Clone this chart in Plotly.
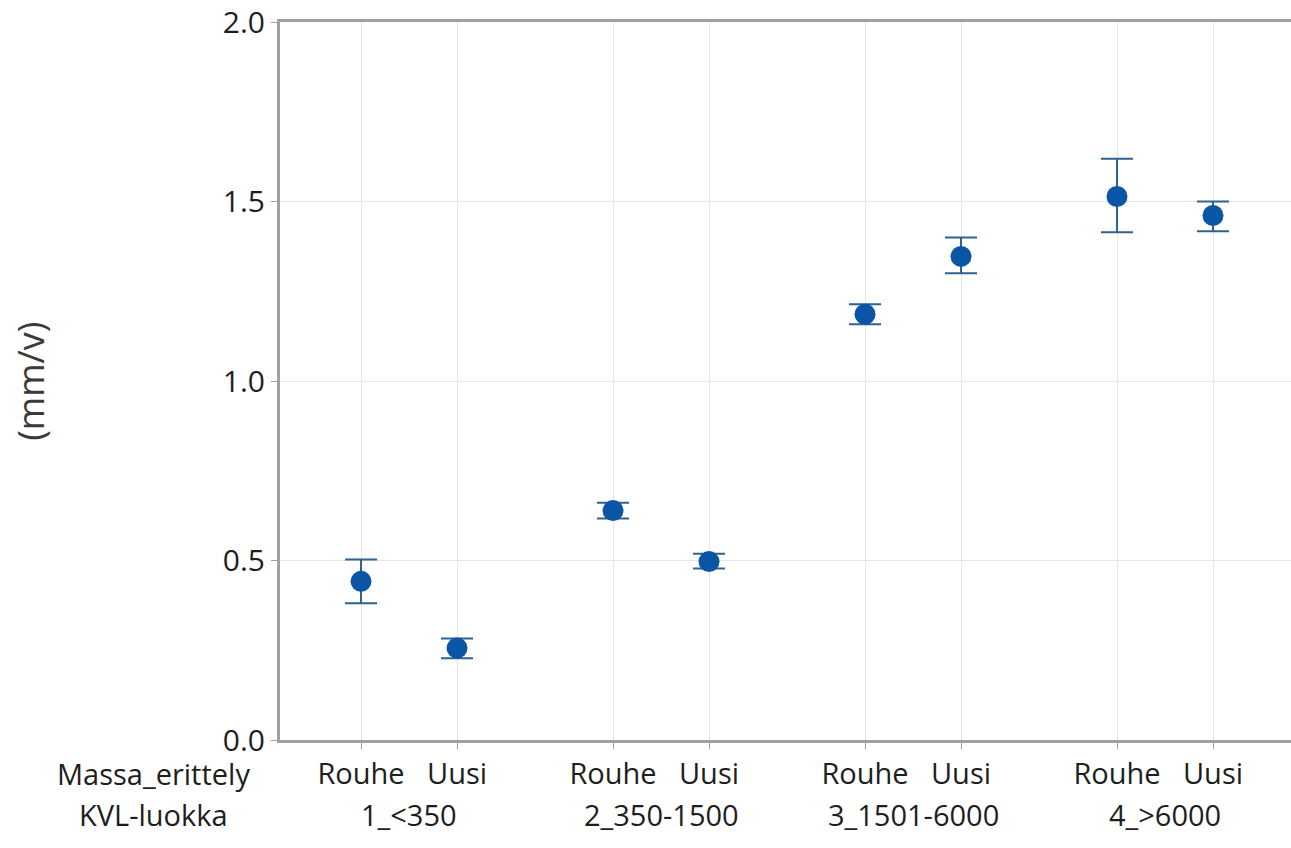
import plotly.graph_objects as go

groups = ["1_<350", "2_350-1500", "3_1501-6000", "4_>6000"]
subgroups = ["Rouhe", "Uusi"]
means = [0.442, 0.256, 0.639, 0.497, 1.186, 1.347, 1.514, 1.461]
upper = [0.503, 0.283, 0.661, 0.519, 1.214, 1.400, 1.619, 1.500]
lower = [0.381, 0.228, 0.617, 0.478, 1.158, 1.300, 1.414, 1.417]
y_ticks = [0.0, 0.5, 1.0, 1.5, 2.0]

group_step = 2.625
xs = []
labels = []
for gi, g in enumerate(groups):
    for si, s in enumerate(subgroups):
        xs.append(gi * group_step + si)
        labels.append(s)

err_plus = [u - m for u, m in zip(upper, means)]
err_minus = [m - l for m, l in zip(means, lower)]

font_family = "Open Sans, Noto Sans, sans-serif"
txt_color = "#1E1E1E"

fig = go.Figure()
fig.add_trace(go.Scatter(
    x=xs, y=means, mode="markers",
    marker=dict(color="#0A55A6", size=21, line=dict(width=0)),
    error_y=dict(type="data", symmetric=False, array=err_plus, arrayminus=err_minus,
                 color="#31628F", thickness=2, width=16),
    showlegend=False,
))

annotations = []
for gi, g in enumerate(groups):
    annotations.append(dict(x=gi * group_step + 0.5, y=-0.104, xref="x", yref="paper",
                            text=g, showarrow=False, xanchor="center", yanchor="middle",
                            font=dict(size=29, color=txt_color, family=font_family)))
annotations.append(dict(x=-0.1256, y=-0.046, xref="paper", yref="paper", text="Massa_erittely",
                        showarrow=False, xanchor="center", yanchor="middle",
                        font=dict(size=29, color=txt_color, family=font_family)))
annotations.append(dict(x=-0.1256, y=-0.104, xref="paper", yref="paper", text="KVL-luokka",
                        showarrow=False, xanchor="center", yanchor="middle",
                        font=dict(size=29, color=txt_color, family=font_family)))
annotations.append(dict(x=-0.2475, y=0.5, xref="paper", yref="paper", text="(mm/v)",
                        showarrow=False, xanchor="center", yanchor="middle", textangle=-90,
                        font=dict(size=36, color="#3A3A3A", family=font_family)))

fig.update_layout(
    width=1291, height=848,
    margin=dict(l=280, r=0, t=20, b=108),
    paper_bgcolor="white", plot_bgcolor="white",
    font=dict(family=font_family, color=txt_color),
    annotations=annotations,
    xaxis=dict(
        range=[-0.844, 9.6875],
        tickvals=xs, ticktext=labels,
        tickfont=dict(size=29, color=txt_color),
        showgrid=True, gridcolor="#E6E6E6", gridwidth=1,
        showline=True, linecolor="#A0A0A0", linewidth=3, mirror=True,
        ticks="outside", ticklen=6, tickcolor="#A0A0A0",
        zeroline=False,
    ),
    yaxis=dict(
        range=[0, 2.0],
        tickvals=y_ticks, ticktext=[f"{v:.1f}" for v in y_ticks],
        tickfont=dict(size=30, color=txt_color),
        ticklabeloverflow="allow",
        showgrid=True, gridcolor="#E6E6E6", gridwidth=1,
        showline=True, linecolor="#A0A0A0", linewidth=3,
        ticks="outside", ticklen=6, tickcolor="#A0A0A0",
        zeroline=False,
    ),
)

fig.write_html("out.html", config={"displayModeBar": False},
               post_script="document.body.style.margin='0';document.body.style.overflow='hidden';")
